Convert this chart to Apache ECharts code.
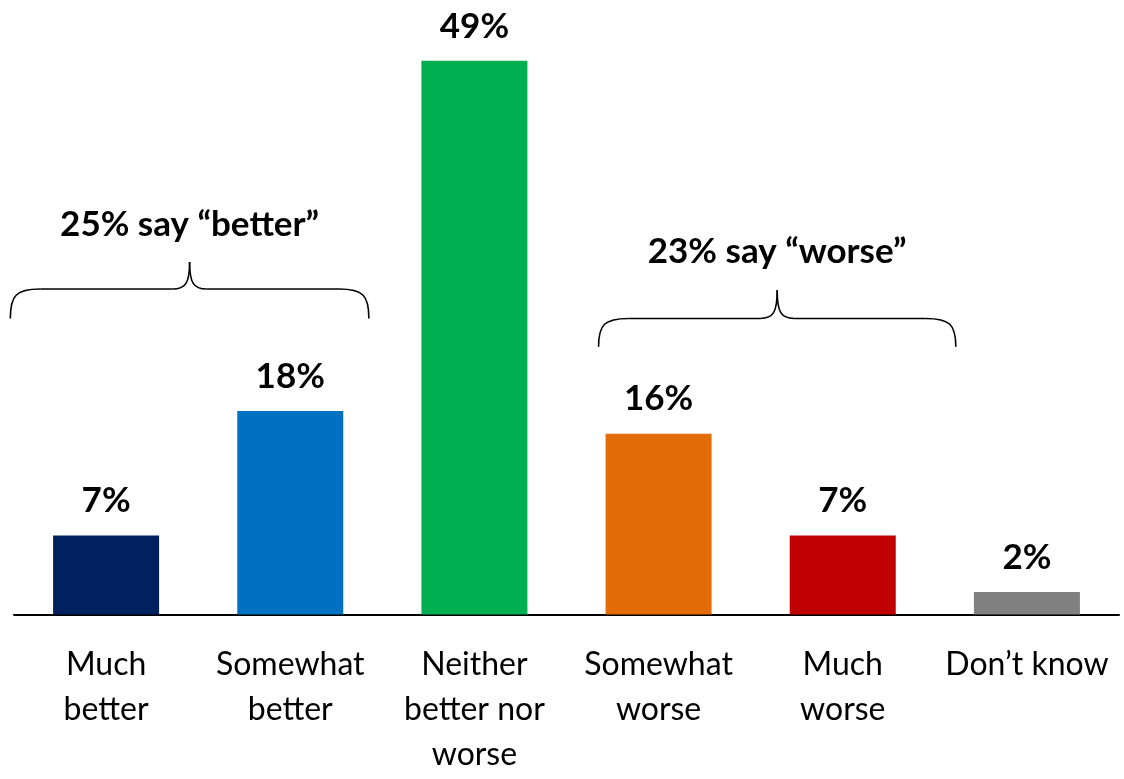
<!DOCTYPE html>
<html>
<head>
<meta charset="utf-8">
<script src="https://cdn.jsdelivr.net/npm/echarts@6/dist/echarts.min.js"></script>
<style>
html, body { margin: 0; padding: 0; background: #fff; }
#main { width: 1124px; height: 779px; }
</style>
</head>
<body>
<div id="main"></div>
<script>
let categories = ['Much\nbetter', 'Somewhat\nbetter', 'Neither\nbetter nor\nworse', 'Somewhat\nworse', 'Much\nworse', 'Don\u2019t know'];
let values = [7, 18, 49, 16, 7, 2];
let colors = ['#002060', '#0070C0', '#00B050', '#E36C09', '#C00000', '#808080'];
// brace groups: [first index, last index, label]
let groups = [
    [0, 1, '25% say \u201cbetter\u201d'],
    [3, 4, '23% say \u201cworse\u201d']
];

let myChart = echarts.init(document.getElementById('main'));
myChart.setOption({
    animation: false,
    grid: { left: 14, right: 5, top: 49.5, bottom: 164.5 },
    xAxis: {
        type: 'category',
        data: categories,
        axisTick: { show: false },
        axisLine: { lineStyle: { color: '#000', width: 2 } },
        axisLabel: {
            interval: 0,
            margin: 28,
            color: '#000',
            fontFamily: 'Lato',
            fontSize: 32,
            lineHeight: 45
        }
    },
    yAxis: {
        type: 'value',
        min: 0,
        max: 50,
        show: false
    },
    series: [{
        type: 'bar',
        barWidth: 106,
        data: values.map(function (v, i) {
            return { value: v, itemStyle: { color: colors[i] } };
        }),
        label: {
            show: true,
            position: 'top',
            distance: 17,
            formatter: '{c}%',
            color: '#000',
            fontFamily: 'Lato',
            fontWeight: 'bold',
            fontSize: 35
        }
    }]
});

let braceStyle = { fill: null, stroke: '#000', lineWidth: 1.6 };

function curve(x1, y1, cx1, cy1, cx2, cy2, x2, y2) {
    return {
        type: 'bezierCurve',
        shape: { x1: x1, y1: y1, cpx1: cx1, cpy1: cy1, cpx2: cx2, cpy2: cy2, x2: x2, y2: y2 },
        style: braceStyle
    };
}
function seg(x1, y1, x2, y2) {
    return { type: 'line', shape: { x1: x1, y1: y1, x2: x2, y2: y2 }, style: braceStyle };
}

function brace(x0, x1, yEnd, yLine, yTip) {
    let xm = (x0 + x1) / 2;
    let r = 30, rm = 17;
    return [
        curve(x0, yEnd, x0, yLine + 6, x0 + 6, yLine, x0 + r, yLine),
        seg(x0 + r, yLine, xm - rm, yLine),
        curve(xm - rm, yLine, xm - 4, yLine, xm, yLine - 6, xm, yTip),
        curve(xm, yTip, xm, yLine - 6, xm + 4, yLine, xm + rm, yLine),
        seg(xm + rm, yLine, x1 - r, yLine),
        curve(x1 - r, yLine, x1 - 6, yLine, x1, yLine + 6, x1, yEnd)
    ];
}

function drawBraces() {
    let c0 = myChart.convertToPixel({ xAxisIndex: 0 }, 0);
    let c1 = myChart.convertToPixel({ xAxisIndex: 0 }, 1);
    let band = c1 - c0;
    // brace extents relative to bar centres (in band widths) and heights (in value units)
    let spec = [
        { l: -0.52, r: 0.427, end: 26.2, line: 28.8, tip: 31.2, text: 34.5 },
        { l: -0.326, r: 0.614, end: 23.7, line: 26.2, tip: 28.7, text: 32.1 }
    ];
    let els = [];
    groups.forEach(function (g, k) {
        let s = spec[k];
        let x0 = myChart.convertToPixel({ xAxisIndex: 0 }, g[0]) + s.l * band;
        let x1 = myChart.convertToPixel({ xAxisIndex: 0 }, g[1]) + s.r * band;
        let y = function (v) { return myChart.convertToPixel({ yAxisIndex: 0 }, v); };
        els = els.concat(brace(x0, x1, y(s.end), y(s.line), y(s.tip)));
        els.push({
            type: 'text',
            x: (x0 + x1) / 2,
            y: y(s.text),
            style: {
                text: g[2],
                fill: '#000',
                font: 'bold 35px Lato',
                align: 'center',
                verticalAlign: 'middle'
            }
        });
    });
    myChart.setOption({ graphic: els });
}
drawBraces();
</script>
</body>
</html>
